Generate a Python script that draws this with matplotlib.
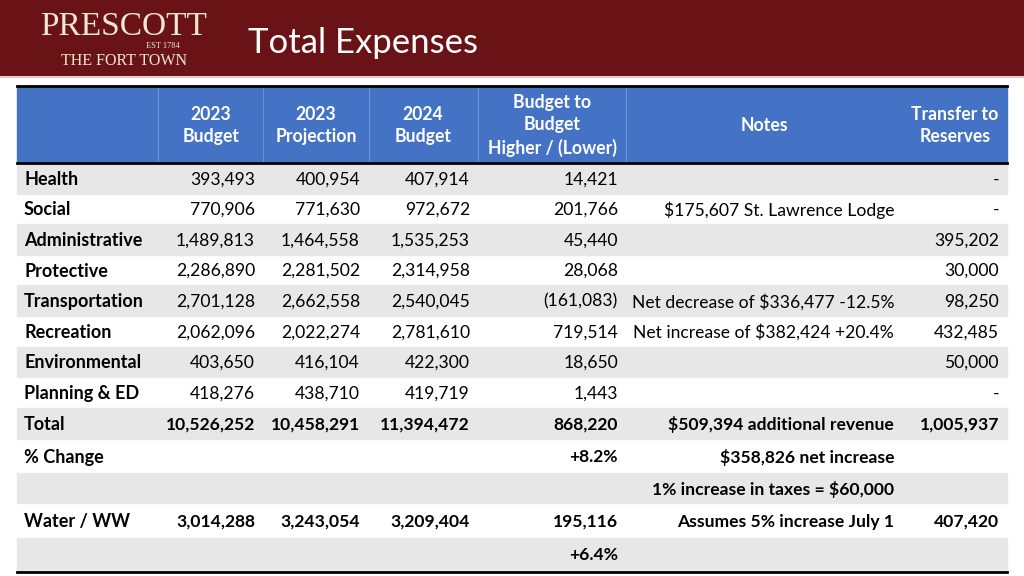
import matplotlib
matplotlib.use("Agg")
import matplotlib.pyplot as plt
from matplotlib.patches import Rectangle

# table data
labels = ["Health", "Social", "Administrative", "Protective", "Transportation",
          "Recreation", "Environmental", "Planning & ED", "Total", "% Change", "",
          "Water / WW", ""]
budget_2023 = ["393,493", "770,906", "1,489,813", "2,286,890", "2,701,128", "2,062,096",
               "403,650", "418,276", "10,526,252", "", "", "3,014,288", ""]
projection_2023 = ["400,954", "771,630", "1,464,558", "2,281,502", "2,662,558", "2,022,274",
                   "416,104", "438,710", "10,458,291", "", "", "3,243,054", ""]
budget_2024 = ["407,914", "972,672", "1,535,253", "2,314,958", "2,540,045", "2,781,610",
               "422,300", "419,719", "11,394,472", "", "", "3,209,404", ""]
diff = ["14,421", "201,766", "45,440", "28,068", "(161,083)", "719,514",
        "18,650", "1,443", "868,220", "+8.2%", "", "195,116", "+6.4%"]
notes = ["", "$175,607 St. Lawrence Lodge", "", "", "Net decrease of $336,477 -12.5%",
         "Net increase of $382,424 +20.4%", "", "", "$509,394 additional revenue",
         "$358,826 net increase", "1% increase in taxes = $60,000",
         "Assumes 5% increase July 1", ""]
reserves = ["-", "-", "395,202", "30,000", "98,250", "432,485", "50,000", "-",
            "1,005,937", "", "", "407,420", ""]
bold_values = [False] * 8 + [True] * 5

headers = ["2023\nBudget", "2023\nProjection", "2024\nBudget",
           "Budget to\nBudget\nHigher / (Lower)", "Notes", "Transfer to\nReserves"]

FONT = "Lato"
RED = "#6a1316"
BLUE = "#4472c4"
GREY = "#e7e7e7"
FS = 12.6

fig = plt.figure(figsize=(10.24, 5.76), dpi=100)
ax = fig.add_axes([0, 0, 1, 1])
ax.set_xlim(0, 1024)
ax.set_ylim(576, 0)
ax.axis("off")

# title band
ax.add_patch(Rectangle((0, 0), 1024, 76, color=RED, zorder=1))
ax.plot([0, 1024], [77, 77], color="#e9c9c4", lw=1.5, zorder=1)
ax.text(248, 43, "Total Expenses", color="white", fontsize=25, family=FONT,
        va="center", ha="left")
logo = "#efe6d3"
ax.text(124, 27, "PRESCOTT", color=logo, fontsize=24, family="Liberation Serif",
        ha="center", va="center")
ax.text(163, 46, "EST 1784", color=logo, fontsize=6, family="Liberation Serif",
        ha="center", va="center")
ax.text(124, 61, "THE FORT TOWN", color=logo, fontsize=11.5, family="Liberation Serif",
        ha="center", va="center")

# table geometry
x0, x1 = 17, 1007
y_head0, y_head1 = 86, 163
row_edges = [163, 193.6, 224.2, 254.8, 285.4, 316, 346.6, 377.2, 407.8, 439, 473, 503, 538, 571]

ax.add_patch(Rectangle((x0, y_head0), x1 - x0, y_head1 - y_head0, color=BLUE, zorder=1))
for xs in [158, 263, 369, 478, 626]:
    ax.plot([xs, xs], [y_head0, y_head1], color="#6d91d4", lw=0.8, zorder=2)

for i in range(len(labels)):
    if i % 2 == 0:
        ax.add_patch(Rectangle((x0, row_edges[i]), x1 - x0, row_edges[i + 1] - row_edges[i],
                               color=GREY, zorder=1))

ax.plot([x0, x1], [y_head0, y_head0], color="black", lw=2, zorder=3)
ax.plot([x0, x1], [y_head1, y_head1], color="black", lw=2, zorder=3)
ax.plot([x0, x1], [572, 572], color="black", lw=2, zorder=3)

head_x = [211, 316, 423, 552, 764, 955]
for hx, h in zip(head_x, headers):
    ax.text(hx, (y_head0 + y_head1) / 2 + 1, h, color="white", fontsize=12.7, family=FONT,
            fontweight="bold", ha="center", va="center", linespacing=1.4)

col_right = [255, 360, 470, 618, 894, 999]
cols = [budget_2023, projection_2023, budget_2024, diff, notes, reserves]
for i, lab in enumerate(labels):
    yc = (row_edges[i] + row_edges[i + 1]) / 2 + 1
    ax.text(24, yc, lab, fontsize=13, family=FONT, fontweight="bold",
            ha="left", va="center", color="black")
    w = "bold" if bold_values[i] else "normal"
    for xr, col in zip(col_right, cols):
        ax.text(xr, yc, col[i], fontsize=FS, family=FONT, fontweight=w,
                ha="right", va="center", color="black")

fig.savefig("out.png", dpi=100)
